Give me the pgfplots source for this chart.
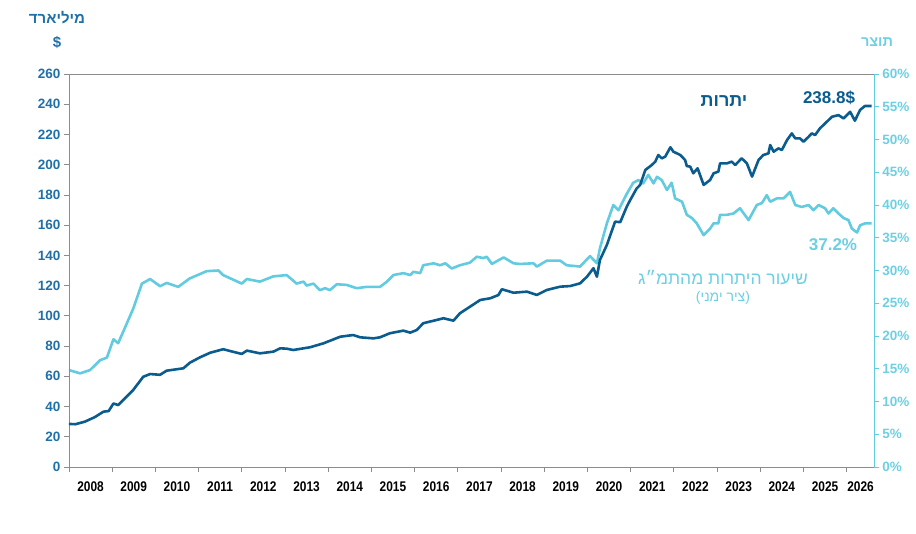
\documentclass[border=0pt]{standalone}
\usepackage{fontspec}
\setmainfont{Liberation Sans}
\newfontfamily\narrowfont[FakeStretch=0.85]{Liberation Sans}
\newfontfamily\hebfont[Script=Hebrew]{Liberation Sans}
\TeXXeTstate=1
\usepackage{pgfplots}
\pgfplotsset{compat=1.18}
\definecolor{darkline}{HTML}{0B5C8E}
\definecolor{cyanline}{HTML}{62CBDF}
\definecolor{lefttick}{HTML}{1F6FA8}
\definecolor{cyantext}{HTML}{6DCFE2}
\definecolor{axisgray}{HTML}{8C8C8C}
\begin{document}
\begin{tikzpicture}[x=1pt,y=1pt]
\useasboundingbox (0,0) rectangle (916,533);
% right axis (share of GDP)
\begin{axis}[
  at={(68.9pt,66pt)}, anchor=south west,
  width=805pt, height=393pt, scale only axis,
  xmin=2008, xmax=2026.63, ymin=0, ymax=60,
  axis x line=none,
  axis y line*=right,
  axis line style={cyanline, line width=0.8pt},
  ytick={0,5,...,60},
  yticklabel={\pgfmathprintnumber{\tick}\%},
  tick style={cyanline, line width=0.8pt},
  tick align=outside, major tick length=5pt,
  /pgf/number format/assume math mode=true,
  yticklabel style={font=\bfseries\fontsize{13.5}{13.5}\selectfont, text=cyantext},
]
\addplot[cyanline, line width=2.6pt, line join=round] coordinates {
(2008.00,14.8) (2008.26,14.3) (2008.49,14.8) (2008.72,16.3) (2008.88,16.7)
(2009.03,19.5) (2009.14,18.9) (2009.26,20.7) (2009.49,24.2) (2009.69,28.0)
(2009.88,28.7) (2010.11,27.6) (2010.26,28.1) (2010.53,27.5) (2010.80,28.8)
(2011.19,29.9) (2011.46,30.0) (2011.57,29.3) (2012.00,28.0) (2012.12,28.7)
(2012.42,28.3) (2012.73,29.1) (2013.04,29.3) (2013.27,28.0) (2013.43,28.3)
(2013.50,27.7) (2013.66,28.0) (2013.81,27.0) (2013.93,27.3) (2014.04,27.0)
(2014.20,27.9) (2014.43,27.8) (2014.66,27.3) (2014.89,27.5) (2015.20,27.5)
(2015.36,28.3) (2015.51,29.3) (2015.74,29.6) (2015.90,29.3) (2015.97,29.8)
(2016.13,29.6) (2016.20,30.8) (2016.44,31.1) (2016.59,30.8) (2016.71,31.1)
(2016.86,30.3) (2017.05,30.8) (2017.28,31.2) (2017.44,32.1) (2017.59,31.9)
(2017.67,32.1) (2017.79,31.0) (2018.06,32.0) (2018.29,31.1) (2018.44,31.0)
(2018.75,31.1) (2018.83,30.6) (2019.06,31.5) (2019.37,31.5) (2019.52,30.8)
(2019.83,30.6) (2020.06,32.2) (2020.22,31.1) (2020.29,33.4) (2020.45,37.2)
(2020.60,40.0) (2020.72,39.2) (2020.91,41.7) (2021.06,43.4) (2021.18,43.8)
(2021.29,43.3) (2021.41,44.6) (2021.53,43.3) (2021.61,44.3) (2021.72,43.8)
(2021.84,42.3) (2021.95,43.4) (2022.03,41.0) (2022.19,40.5) (2022.30,38.5)
(2022.42,38.0) (2022.53,37.2) (2022.69,35.4) (2022.84,36.4) (2022.92,37.2)
(2023.03,37.2) (2023.07,38.5) (2023.23,38.5) (2023.38,38.7) (2023.53,39.5)
(2023.73,37.7) (2023.92,40.0) (2024.04,40.3) (2024.15,41.5) (2024.23,40.5)
(2024.38,41.0) (2024.54,41.0) (2024.69,42.0) (2024.81,40.0) (2024.96,39.7)
(2025.12,40.0) (2025.23,39.2) (2025.35,40.0) (2025.50,39.5) (2025.58,38.7)
(2025.69,39.5) (2025.81,38.7) (2025.93,38.0) (2026.04,37.7) (2026.12,36.4)
(2026.24,35.8) (2026.31,36.9) (2026.43,37.2) (2026.58,37.2)
};
\end{axis}
% left axis (reserves)
\begin{axis}[
  at={(68.9pt,66pt)}, anchor=south west,
  width=805pt, height=393pt, scale only axis,
  xmin=2008, xmax=2026.63, ymin=0, ymax=260,
  axis x line*=bottom, axis y line*=left,
  axis line style={axisgray, line width=0.8pt},
  tick style={axisgray, line width=0.8pt},
  tick align=outside, major tick length=5pt,
  ytick={0,20,...,260},
  xtick={2008,...,2026}, xticklabels={},
  extra x ticks={2008.5,2009.5,2010.5,2011.5,2012.5,2013.5,2014.5,2015.5,2016.5,2017.5,2018.5,2019.5,2020.5,2021.5,2022.5,2023.5,2024.5,2025.5,2026.32},
  extra x tick labels={2008,2009,2010,2011,2012,2013,2014,2015,2016,2017,2018,2019,2020,2021,2022,2023,2024,2025,2026},
  extra x tick style={major tick length=0pt, xticklabel style={font=\narrowfont\bfseries\fontsize{14}{14}\selectfont, text=black, yshift=-11pt}},
  /pgf/number format/assume math mode=true,
  /pgf/number format/1000 sep={},
  yticklabel style={font=\bfseries\fontsize{13.5}{13.5}\selectfont, text=lefttick},
  extra description/.code={\draw[axisgray, line width=0.8pt] (rel axis cs:0,1) -- (rel axis cs:1,1);},
]
\addplot[darkline, line width=2.6pt, line join=round] coordinates {
(2008.00,28.5) (2008.15,28.3) (2008.37,30.0) (2008.60,33.0) (2008.80,36.6)
(2008.92,37.0) (2009.03,42.0) (2009.14,41.0) (2009.49,51.0) (2009.72,59.7)
(2009.88,61.5) (2010.11,61.0) (2010.26,63.7) (2010.65,65.3) (2010.80,69.0)
(2011.03,72.5) (2011.27,75.6) (2011.57,77.9) (2012.00,74.8) (2012.12,77.0)
(2012.42,75.2) (2012.73,76.3) (2012.89,78.5) (2013.04,78.3) (2013.19,77.4)
(2013.58,79.2) (2013.89,81.8) (2014.28,86.2) (2014.58,87.3) (2014.74,85.8)
(2015.05,85.1) (2015.20,85.8) (2015.43,88.5) (2015.74,90.2) (2015.90,88.9)
(2016.05,90.6) (2016.20,95.1) (2016.67,98.4) (2016.90,96.8) (2017.05,101.7)
(2017.52,110.5) (2017.75,111.6) (2017.94,113.8) (2018.02,117.6) (2018.29,115.3)
(2018.60,116.0) (2018.83,113.8) (2019.06,117.1) (2019.37,119.3) (2019.60,119.7)
(2019.83,121.5) (2019.99,125.9) (2020.14,131.5) (2020.22,125.9) (2020.29,137.0)
(2020.45,146.9) (2020.64,162.3) (2020.76,162.0) (2020.91,172.2) (2020.99,176.6)
(2021.14,184.3) (2021.22,186.6) (2021.34,196.5) (2021.49,199.8) (2021.57,202.0)
(2021.64,206.4) (2021.72,204.2) (2021.80,205.3) (2021.92,211.5) (2021.99,208.6)
(2022.15,206.4) (2022.26,203.1) (2022.30,199.1) (2022.38,198.7) (2022.45,194.3)
(2022.55,197.6) (2022.69,186.6) (2022.84,189.9) (2022.92,194.3) (2023.03,195.4)
(2023.07,200.9) (2023.23,200.9) (2023.34,202.0) (2023.42,199.8) (2023.57,204.2)
(2023.69,200.9) (2023.81,192.1) (2023.96,203.1) (2024.07,206.4) (2024.19,207.5)
(2024.23,213.0) (2024.31,208.6) (2024.42,210.8) (2024.50,209.7) (2024.62,216.3)
(2024.73,220.7) (2024.81,217.4) (2024.92,217.4) (2025.00,215.2) (2025.12,218.5)
(2025.19,220.7) (2025.27,219.6) (2025.38,224.0) (2025.50,227.3) (2025.54,228.4)
(2025.66,231.7) (2025.81,232.8) (2025.93,230.6) (2026.08,235.0) (2026.19,229.1)
(2026.31,236.2) (2026.42,238.8) (2026.58,238.8)
};
\end{axis}
% titles and annotations
\node[text=lefttick, font=\hebfont\bfseries\fontsize{15}{15}\selectfont] at (57,515) {\beginR מיליארד\endR};
\node[text=lefttick, font=\bfseries\fontsize{15}{15}\selectfont] at (57,491) {\$};
\node[text=cyantext, font=\hebfont\bfseries\fontsize{14.5}{14.5}\selectfont] at (877,491) {\beginR תוצר\endR};
\node[text=darkline, font=\hebfont\bfseries\fontsize{18}{18}\selectfont] at (724,432) {\beginR יתרות\endR};
\node[text=darkline, font=\bfseries\fontsize{17}{17}\selectfont] at (829,435) {238.8\$};
\node[text=cyantext, font=\bfseries\fontsize{17}{17}\selectfont] at (833,288) {37.2\%};
\node[text=cyantext, font=\hebfont\fontsize{17.5}{17.5}\selectfont] at (723,255) {\beginR שיעור היתרות מהתמ״ג\endR};
\node[text=cyantext, font=\fontsize{14}{14}\selectfont] at (723,235) {(\hebfont\beginR ציר ימני\endR\normalfont)};
\end{tikzpicture}
\end{document}
